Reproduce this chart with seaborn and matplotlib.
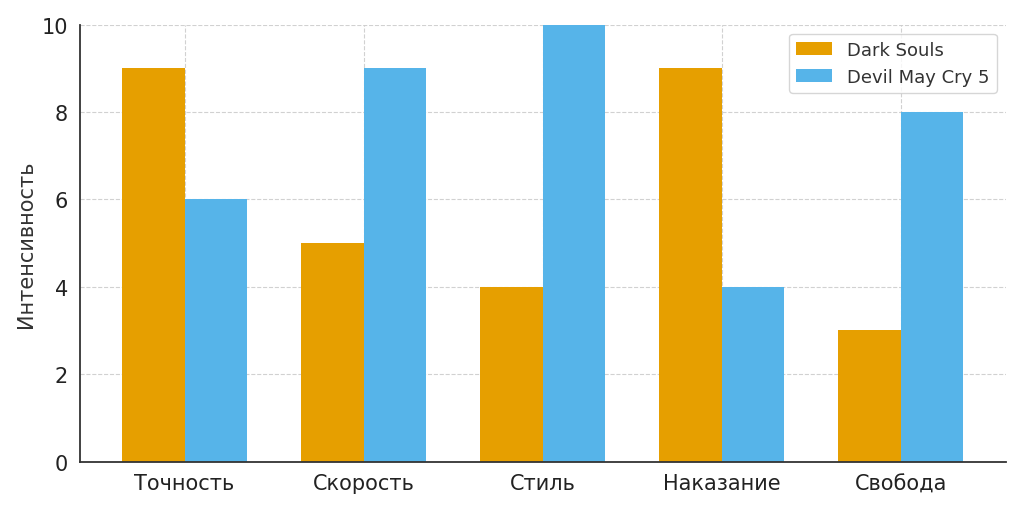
import pandas as pd
import matplotlib
matplotlib.use("Agg")
import matplotlib.pyplot as plt
import seaborn as sns

# Data
categories = ["Точность", "Скорость", "Стиль", "Наказание", "Свобода"]
dark_souls = [9, 5, 4, 9, 3]
dmc5 = [6, 9, 10, 4, 8]
games = ["Dark Souls", "Devil May Cry 5"]

df = pd.DataFrame({
    "category": categories * 2,
    "value": dark_souls + dmc5,
    "game": [games[0]] * len(categories) + [games[1]] * len(categories),
})

sns.set_style("white")
plt.rcParams["font.family"] = ["DejaVu Sans"]

fig, ax = plt.subplots(figsize=(10.24, 5.1), dpi=100)
sns.barplot(data=df, x="category", y="value", hue="game",
            palette=["#E69F00", "#56B4E9"], width=0.7, saturation=1,
            linewidth=0, ax=ax, zorder=2)

ax.set_xlim(-0.585, 4.585)
ax.set_ylim(0, 10)
ax.set_xlabel("")
ax.set_ylabel("Интенсивность", fontsize=15, color="#333333")
ax.tick_params(axis="both", labelsize=15, labelcolor="#222222", color="#333333", length=5)
ax.grid(True, linestyle="--", color="#cccccc", linewidth=0.8, alpha=0.9, zorder=0)
ax.set_axisbelow(True)

for side in ["top", "right"]:
    ax.spines[side].set_visible(False)
for side in ["left", "bottom"]:
    ax.spines[side].set_color("#333333")
    ax.spines[side].set_linewidth(1.3)

leg = ax.legend(loc="upper right", fontsize=13, frameon=True)
leg.get_frame().set_edgecolor("#cccccc")
for t in leg.get_texts():
    t.set_color("#333333")

plt.subplots_adjust(left=0.078, right=0.982, top=0.95, bottom=0.093)
plt.savefig("out.png", dpi=100)
